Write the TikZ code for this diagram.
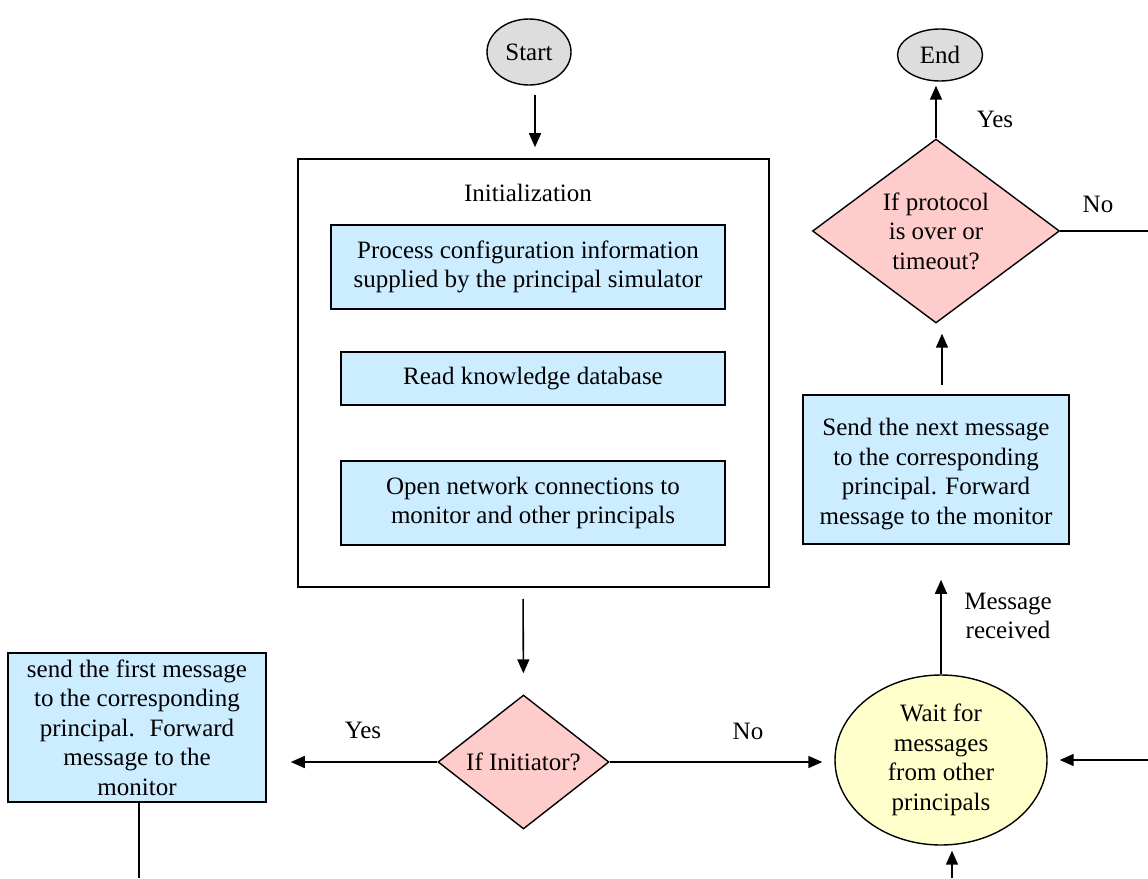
\documentclass[tikz,border=0pt]{standalone}
\usepackage{fontspec}
\setmainfont{Liberation Serif}
\usetikzlibrary{shapes.geometric,arrows.meta}

\definecolor{boxblue}{HTML}{CCECFF}
\definecolor{decpink}{HTML}{FFCCCC}
\definecolor{waityellow}{HTML}{FFFFCC}
\definecolor{termgray}{HTML}{DDDDDD}

\tikzset{
  txt/.style={font=\fontsize{25}{29.5}\selectfont, align=center, inner sep=0pt},
  stepbox/.style={txt, draw, line width=1.6pt, fill=boxblue, rectangle},
  frame/.style={draw, line width=1.6pt, rectangle, inner sep=0pt},
  decision/.style={txt, draw, line width=1.4pt, fill=decpink, diamond},
  terminal/.style={txt, draw, line width=1.4pt, fill=termgray, ellipse},
  waitnode/.style={txt, draw, line width=1.4pt, fill=waityellow, ellipse},
  arr/.style={line width=1.6pt, -{Triangle[length=14pt,width=12pt]}},
  plain/.style={line width=1.6pt},
  lbl/.style={txt}
}

\begin{document}
\begin{tikzpicture}[x=1pt, y=-1pt]
\useasboundingbox (0,0) rectangle (1148,878);

% terminals
\node[terminal, minimum width=84pt, minimum height=66pt] (start) at (529,52) {Start};
\node[terminal, minimum width=85pt, minimum height=52pt] (end) at (940,55) {End};

% initialization block
\node[frame, minimum width=471pt, minimum height=428pt] (init) at (533.5,373) {};
\node[lbl] (inittitle) at (528,193) {Initialization};
\node[stepbox, minimum width=394pt, minimum height=84pt] (cfg) at (528,267)
  {Process configuration information\\supplied by the principal simulator};
\node[stepbox, minimum width=384pt, minimum height=53pt] (kdb) at (533,378.5)
  {Read knowledge database};
\node[stepbox, minimum width=384pt, minimum height=84pt] (net) at (533,503)
  {Open network connections to\\monitor and other principals};

% decisions
\node[decision, aspect=1.28, minimum width=171pt, minimum height=134pt] (initq) at (523.5,762)
  {If Initiator?};
\node[decision, aspect=1.36, minimum width=247pt, minimum height=184pt] (protq) at (936,231)
  {If protocol\\is over or\\timeout?};

% action boxes
\node[stepbox, minimum width=258pt, minimum height=149pt] (first) at (137,727.5)
  {send the first message\\to the corresponding\\principal.~ Forward\\message to the\\monitor};
\node[stepbox, minimum width=266pt, minimum height=149pt] (next) at (936,469.5) {};
\node[lbl] (nexttext) at (936,474)
  {Send the next message\\to the corresponding\\principal. Forward\\message to the monitor};

% waiting state
\node[waitnode, minimum width=212pt, minimum height=170pt] (wait) at (941,760)
  {Wait for\\messages\\from other\\principals};

% loose ends at the page border
\coordinate (noout) at (1148,231);
\coordinate (backin) at (1148,760);
\coordinate (fromlow) at (952,878);
\coordinate (tolow) at (139,878);

% connectors
\draw[arr, shorten <=9pt, shorten >=11pt] ([xshift=6pt]start.south) -- ([xshift=1.5pt]init.north);
\draw[arr, shorten <=11pt, shorten >=21pt] ([xshift=-10.5pt]init.south) -- (initq.north);
\draw[arr, shorten >=24pt] (initq.west) -- (initq.west -| first.east);
\draw[arr, shorten >=12pt] (initq.east) -- (initq.east -| wait.west);
\draw[arr, shorten >=35pt] (wait.north) -- (wait.north |- next.south);
\draw[arr, shorten <=9pt, shorten >=10pt] ([xshift=6pt]next.north) -- ([xshift=6pt]protq.south);
\draw[arr, shorten >=4pt] (protq.north) -- (protq.north |- end.south);
\draw[plain] (protq.east) -- (noout);
\draw[arr, shorten >=12pt] (backin) -- (wait.east);
\draw[arr, shorten >=5pt] (fromlow) -- (fromlow |- wait.south);
\draw[plain] (tolow |- first.south) -- (tolow);

% branch labels
\node[lbl] (yestop) at (995,119) {Yes};
\node[lbl] (notop) at (1098,204) {No};
\node[lbl] (msgrecv) at (1008,616) {Message\\received};
\node[lbl] (yesleft) at (363,730) {Yes};
\node[lbl] (nomid) at (748,731) {No};
\end{tikzpicture}
\end{document}
